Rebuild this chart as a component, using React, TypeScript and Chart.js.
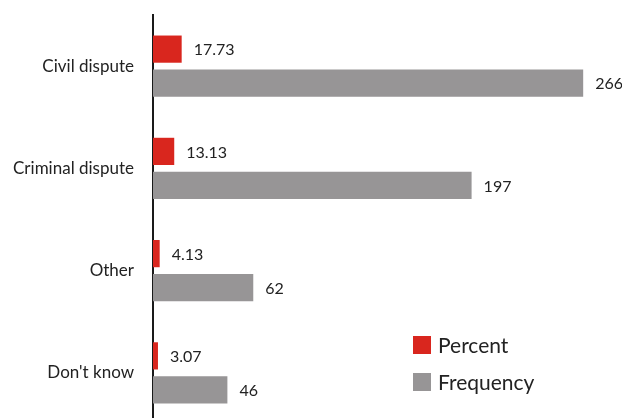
import React, { useEffect, useRef } from "react";
import { Chart, registerables } from "chart.js";

Chart.register(...registerables);

const categories = ["Civil dispute", "Criminal dispute", "Other", "Don't know"];
const percentValues = [17.73, 13.13, 4.13, 3.07];
const frequencyValues = [266, 197, 62, 46];
const seriesNames = ["Percent", "Frequency"];
const seriesColors = ["#D9261E", "#979596"];

const FONT = "Lato, 'Open Sans', sans-serif";

// Writes each bar's value just past its end.
const valueLabels = {
  id: "valueLabels",
  afterDatasetsDraw(chart: any) {
    const { ctx } = chart;
    ctx.save();
    ctx.fillStyle = "#222222";
    ctx.font = `16px ${FONT}`;
    ctx.textAlign = "left";
    ctx.textBaseline = "middle";
    chart.data.datasets.forEach((ds: any, di: number) => {
      const meta = chart.getDatasetMeta(di);
      meta.data.forEach((el: any, i: number) => {
        ctx.fillText(String(ds.data[i]), el.x + 12, el.y + 1);
      });
    });
    ctx.restore();
  },
};

// Square-swatch legend in the lower right of the plot area.
const cornerLegend = {
  id: "cornerLegend",
  afterDraw(chart: any) {
    const { ctx } = chart;
    const x = 413;
    const y0 = 336;
    const step = 37;
    ctx.save();
    ctx.font = `21px ${FONT}`;
    ctx.textAlign = "left";
    ctx.textBaseline = "middle";
    chart.data.datasets.forEach((ds: any, i: number) => {
      const y = y0 + i * step;
      ctx.fillStyle = ds.backgroundColor;
      ctx.fillRect(x, y, 18, 18);
      ctx.fillStyle = "#222222";
      ctx.fillText(ds.label, x + 25, y + 10);
    });
    ctx.restore();
  },
};

export default function App() {
  const ref = useRef<HTMLCanvasElement>(null);

  useEffect(() => {
    if (!ref.current) return;
    const chart = new Chart(ref.current, {
      type: "bar",
      data: {
        labels: categories,
        datasets: [
          {
            label: seriesNames[0],
            data: percentValues,
            backgroundColor: seriesColors[0],
            categoryPercentage: 0.665,
            barPercentage: 0.8,
          },
          {
            label: seriesNames[1],
            data: frequencyValues,
            backgroundColor: seriesColors[1],
            categoryPercentage: 0.665,
            barPercentage: 0.8,
          },
        ],
      },
      options: {
        indexAxis: "y",
        responsive: true,
        maintainAspectRatio: false,
        animation: false,
        layout: { padding: { top: 15, bottom: 11, left: 0, right: 0 } },
        plugins: {
          legend: { display: false },
          tooltip: { enabled: false },
        },
        scales: {
          x: {
            display: false,
            min: 0,
            max: 290,
          },
          y: {
            afterFit(scale: any) {
              scale.width = 153;
            },
            // invisible tick marks keep the labels clear of the axis line
            grid: {
              display: true,
              drawOnChartArea: false,
              drawTicks: true,
              tickLength: 19,
              tickColor: "rgba(0,0,0,0)",
            },
            border: { display: true, color: "#1a1a1a", width: 2 },
            ticks: {
              color: "#222222",
              padding: 0,
              font: { family: FONT, size: 17 },
            },
          },
        },
      },
      plugins: [valueLabels, cornerLegend],
    });
    return () => chart.destroy();
  }, []);

  return (
    <div
      style={{
        position: "fixed",
        left: 0,
        top: 0,
        width: 622,
        height: 418,
        overflow: "hidden",
        background: "#ffffff",
      }}
    >
      <div style={{ position: "relative", width: 622, height: 435 }}>
        <canvas ref={ref} />
      </div>
    </div>
  );
}
